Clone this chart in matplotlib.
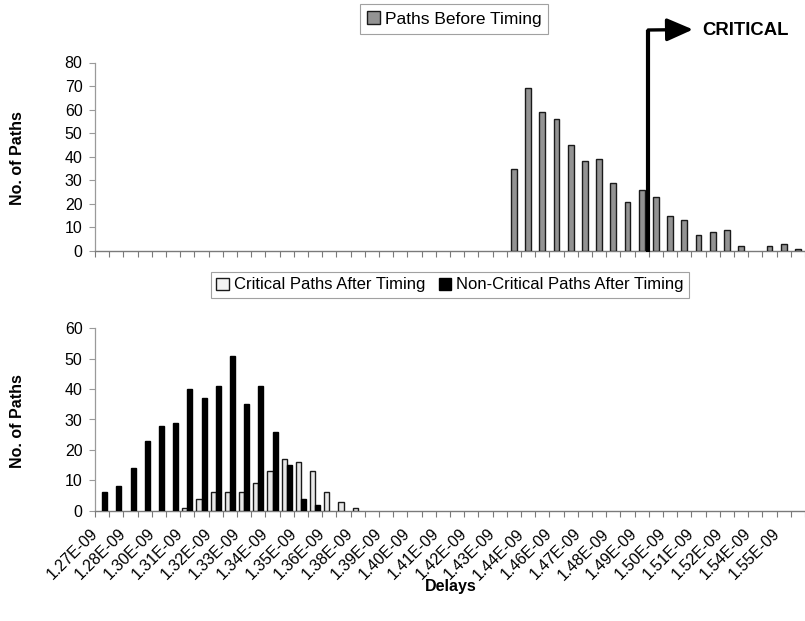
import numpy as np
import matplotlib
matplotlib.use("Agg")
import matplotlib.pyplot as plt
from matplotlib import transforms
from matplotlib.patches import Patch

plt.rcParams["font.family"] = ["Liberation Sans", "DejaVu Sans"]

# Delay bins (50 bins, every other one labelled)
n_bins = 50
delay_labels = ["1.27E-09", "1.28E-09", "1.30E-09", "1.31E-09", "1.32E-09",
                "1.33E-09", "1.34E-09", "1.35E-09", "1.36E-09", "1.38E-09",
                "1.39E-09", "1.40E-09", "1.41E-09", "1.42E-09", "1.43E-09",
                "1.44E-09", "1.46E-09", "1.47E-09", "1.48E-09", "1.49E-09",
                "1.50E-09", "1.51E-09", "1.52E-09", "1.54E-09", "1.55E-09"]

# Path counts per bin
before_start = 29
paths_before = [35, 69, 59, 56, 45, 38, 39, 29, 21, 26, 23, 15, 13, 7, 8, 9,
                2, 0, 2, 3, 1]
noncrit_start = 0
noncrit_after = [6, 8, 14, 23, 28, 29, 40, 37, 41, 51, 35, 41, 26, 15, 4, 2]
crit_start = 6
crit_after = [1, 4, 6, 6, 6, 9, 13, 17, 16, 13, 6, 3, 1]

# Position of the critical-delay marker (in bin units)
critical_bin = 38.45


def full(start, vals):
    arr = np.zeros(n_bins)
    arr[start:start + len(vals)] = vals
    return arr


before = full(before_start, paths_before)
noncrit = full(noncrit_start, noncrit_after)
crit = full(crit_start, crit_after)
bins = np.arange(n_bins)

W, H = 805, 621
fig = plt.figure(figsize=(W / 100, H / 100), dpi=100)

x0, x1 = 95, 805
ax1 = fig.add_axes([x0 / W, 1 - 251 / H, (x1 - x0) / W, (251 - 62.5) / H])
ax2 = fig.add_axes([x0 / W, 1 - 510.7 / H, (x1 - x0) / W, (510.7 - 328.3) / H])

axis_col = "#7a7a7a"
tick_fs = 11.5


def style_axes(ax, ymax):
    ax.set_xlim(-0.5, n_bins - 0.5)
    ax.set_ylim(0, ymax)
    ax.set_yticks(np.arange(0, ymax + 1, 10))
    for s in ("top", "right"):
        ax.spines[s].set_visible(False)
    ax.spines["left"].set_color("#9a9a9a")
    ax.spines["bottom"].set_color(axis_col)
    ax.spines["left"].set_linewidth(0.9)
    ax.spines["bottom"].set_linewidth(1.0)
    ax.set_xticks(np.arange(-0.5, n_bins, 1), minor=True)
    ax.tick_params(axis="x", which="minor", length=4, color=axis_col, width=0.8)
    ax.tick_params(axis="y", length=4, color="#9a9a9a", width=0.8,
                   labelsize=tick_fs, pad=5)


# Top: paths before timing
style_axes(ax1, 80)
nz = before > 0
ax1.bar(bins[nz], before[nz], width=0.42, color="#939393",
        edgecolor="#1a1a1a", linewidth=1.0, zorder=3)
ax1.set_xticks([])

# Bottom: paths after timing
style_axes(ax2, 60)
bw = 0.36
nz = crit > 0
ax2.bar(bins[nz] - bw / 2, crit[nz], width=bw, color="#e8e8e8",
        edgecolor="#1a1a1a", linewidth=1.0, zorder=3)
nz = noncrit > 0
ax2.bar(bins[nz] + bw / 2, noncrit[nz], width=bw, color="black",
        edgecolor="black", linewidth=1.0, zorder=3)
ax2.set_xticks(np.arange(0, n_bins, 2))
ax2.set_xticklabels(delay_labels, rotation=45, ha="right", va="top",
                    rotation_mode="anchor", fontsize=tick_fs)
ax2.tick_params(axis="x", which="major", length=0, pad=11)
shift = transforms.ScaledTranslation(-12 / 100, 0, fig.dpi_scale_trans)
for lab in ax2.get_xticklabels():
    lab.set_transform(lab.get_transform() + shift)

# Axis titles
fig.text(17 / W, 1 - 158 / H, "No. of Paths", rotation=90, ha="center",
         va="center", fontsize=11.5, fontweight="bold")
fig.text(17 / W, 1 - 421 / H, "No. of Paths", rotation=90, ha="center",
         va="center", fontsize=11.5, fontweight="bold")
fig.text(451 / W, 1 - 586 / H, "Delays", ha="center", va="center",
         fontsize=11.5, fontweight="bold")

# Legends
leg_kw = dict(frameon=True, fancybox=False, edgecolor="#8a8a8a",
              handlelength=0.75, handleheight=0.75,
              handletextpad=0.3, columnspacing=0.8,
              bbox_transform=fig.transFigure, loc="center")
l1 = fig.legend(handles=[Patch(facecolor="#939393", edgecolor="#1a1a1a",
                               label="Paths Before Timing")],
                bbox_to_anchor=(454 / W, 1 - 19 / H), fontsize=12.5,
                borderpad=0.4, **leg_kw)
l1.get_frame().set_linewidth(0.8)
l2 = fig.legend(handles=[Patch(facecolor="#f2f2f2", edgecolor="#1a1a1a",
                               label="Critical Paths After Timing"),
                         Patch(facecolor="black", edgecolor="black",
                               label="Non-Critical Paths After Timing")],
                ncol=2, bbox_to_anchor=(450 / W, 1 - 285 / H), fontsize=12,
                borderpad=0.35, **leg_kw)
l2.get_frame().set_linewidth(0.8)

# Critical marker: vertical line from the baseline, then arrow to the right
blend = transforms.blended_transform_factory(ax1.transData, fig.transFigure)
y_top = 1 - 29.5 / H
y_base = 1 - 252 / H
ax1.plot([critical_bin, critical_bin], [y_base, y_top], transform=blend,
         color="black", lw=3.0, solid_capstyle="butt", clip_on=False, zorder=5)
ax1.annotate("", xy=(693, H - 29.5), xycoords="figure pixels",
             xytext=(critical_bin, y_top - 0.5 / H), textcoords=blend,
             arrowprops=dict(arrowstyle="-|>,head_length=0.8,head_width=0.35",
                             lw=2.4, color="black", mutation_scale=20,
                             shrinkA=0, shrinkB=0))
fig.text(702 / W, 1 - 30.5 / H, "CRITICAL", ha="left", va="center",
         fontsize=13.3, fontweight="bold")

fig.savefig("out.png", dpi=100)
